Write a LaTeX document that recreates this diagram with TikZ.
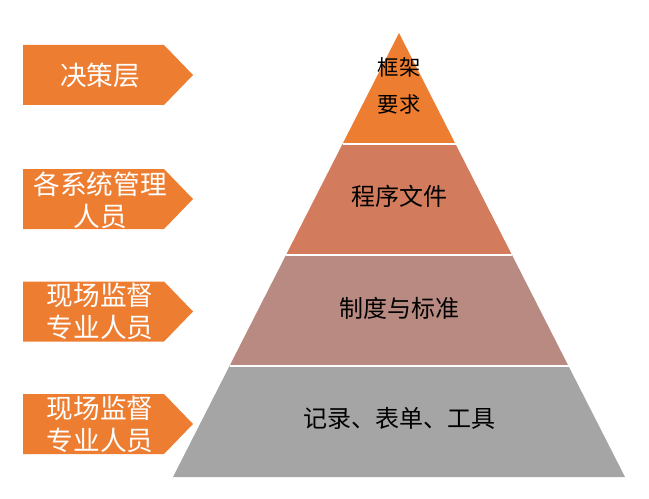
\documentclass[tikz,border=0pt]{standalone}
\usepackage{fontspec}
\newfontfamily\cjk{Noto Sans CJK SC}
\definecolor{tierone}{HTML}{ED7D31}
\definecolor{tiertwo}{HTML}{D27B5D}
\definecolor{tierthree}{HTML}{B98A81}
\definecolor{tierfour}{HTML}{A5A5A5}
\definecolor{tagfill}{HTML}{ED7D31}
\tikzset{
  tiergap/.style={draw=white, line width=1.5pt},
  tag/.style={fill=tagfill},
  tagtext/.style={text=white, font=\cjk\fontsize{20}{24}\selectfont, align=center},
  tiertext/.style={text=black, font=\cjk\fontsize{18}{22}\selectfont, align=center}
}

\begin{document}
\begin{tikzpicture}[x=0.75pt, y=-0.75pt]
\useasboundingbox (0,0) rectangle (649,499);
% pyramid
\coordinate (T) at (399,33);
\coordinate (L1) at (342.5,144);
\coordinate (R1) at (455.5,144);
\coordinate (L2) at (286,255);
\coordinate (R2) at (512,255);
\coordinate (L3) at (229.5,366);
\coordinate (R3) at (568.5,366);
\coordinate (L4) at (173,477);
\coordinate (R4) at (625,477);
\fill[tierone] (T) -- (R1) -- (L1) -- cycle;
\fill[tiertwo] (L1) -- (R1) -- (R2) -- (L2) -- cycle;
\fill[tierthree] (L2) -- (R2) -- (R3) -- (L3) -- cycle;
\fill[tierfour] (L3) -- (R3) -- (R4) -- (L4) -- cycle;
\draw[tiergap] (L1) -- (R1);
\draw[tiergap] (L2) -- (R2);
\draw[tiergap] (L3) -- (R3);
\node[tiertext, font=\cjk\fontsize{16}{28}\selectfont] (frame) at (399,86) {框架\\要求};
\node[tiertext] (procedure) at (399,196) {程序文件};
\node[tiertext] (rules) at (399,308) {制度与标准};
\node[tiertext] (records) at (399,418) {记录、表单、工具};
% tags
\foreach \yc in {75,199,311.5,424}
  \fill[tag] (23,\yc-30) -- (164,\yc-30) -- (193,\yc) -- (164,\yc+30) -- (23,\yc+30) -- cycle;
\node[tagtext] (decision) at (100,75) {决策层};
\node[tagtext] (managers) at (100,200) {各系统管理\\人员};
\node[tagtext] (siteone) at (100,311.5) {现场监督\\专业人员};
\node[tagtext] (sitetwo) at (100,424) {现场监督\\专业人员};
\end{tikzpicture}
\end{document}
